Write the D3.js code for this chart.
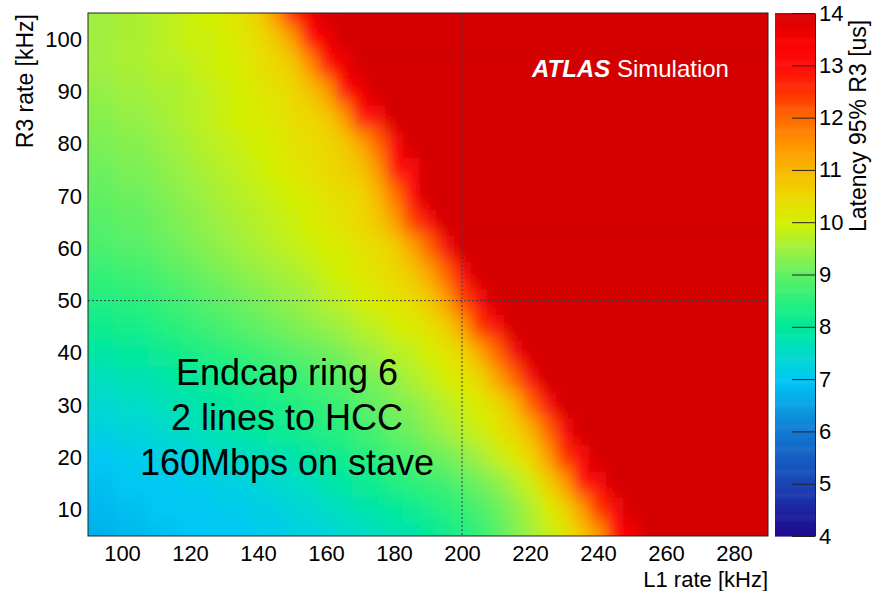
<!DOCTYPE html>
<html>
<head>
<meta charset="utf-8">
<script src="https://cdn.jsdelivr.net/npm/d3@7/dist/d3.min.js"></script>
<style>
  body { margin: 0; background: #fff; }
  svg text { font-family: "Liberation Sans", Arial, Helvetica, sans-serif; fill: #000; }
</style>
</head>
<body>
<svg class="latency-ch"></svg>
<script>
"use strict";

// L1 rate (columns) and R3 rate (rows), kHz
var l1Rate = [90,95,100,105,110,115,120,125,130,135,140,145,150,155,160,165,170,175,180,185,
  190,195,200,205,210,215,220,225,230,235,240,245,250,255,260,265,270,275,280,285,290];
var r3Rate = [5,10,15,20,25,30,35,40,45,50,55,60,65,70,75,80,85,90,95,100,105];

// latency 95% R3 [us], one row per R3 rate (bottom to top), 15 = off scale
var latency = [
  [6.7,6.7,6.8,6.8,6.9,6.9,7.0,7.0,7.0,7.0,7.1,7.1,7.2,7.2,7.3,7.4,7.5,7.6,7.7,7.8,8.0,8.2,8.4,8.6,8.9,9.2,9.5,9.8,10.2,10.7,11.3,13.0,13.5,
   15,15,15,15,15,15,15,15],
  [6.8,6.8,6.9,6.9,7.0,7.0,7.0,7.0,7.1,7.1,7.2,7.2,7.3,7.4,7.5,7.6,7.8,7.9,8.0,8.1,8.3,8.4,8.6,8.8,9.0,9.3,9.6,10.0,10.5,11.3,12.5,13.2,
   15,15,15,15,15,15,15,15,15],
  [6.9,6.9,7.0,7.0,7.0,7.0,7.1,7.1,7.2,7.2,7.3,7.4,7.5,7.6,7.8,7.9,8.1,8.2,8.4,8.5,8.6,8.7,8.9,9.1,9.3,9.6,9.9,10.6,11.3,13.0,13.2,
   15,15,15,15,15,15,15,15,15,15],
  [7.0,7.0,7.1,7.1,7.2,7.2,7.3,7.4,7.5,7.5,7.6,7.7,7.8,7.9,8.1,8.2,8.4,8.5,8.7,8.8,9.0,9.1,9.3,9.5,9.8,10.1,10.5,11.3,12.5,13.2,
   15,15,15,15,15,15,15,15,15,15,15],
  [7.2,7.2,7.3,7.3,7.4,7.5,7.6,7.7,7.8,7.9,8.0,8.1,8.2,8.3,8.4,8.5,8.7,8.8,9.0,9.1,9.3,9.5,9.7,9.9,10.2,10.5,11.0,12.0,13.2,
   15,15,15,15,15,15,15,15,15,15,15,15],
  [7.4,7.4,7.5,7.5,7.6,7.7,7.8,7.9,8.0,8.1,8.2,8.3,8.4,8.5,8.6,8.7,8.9,9.0,9.2,9.3,9.5,9.7,9.9,10.1,10.4,10.9,12.0,13.0,
   15,15,15,15,15,15,15,15,15,15,15,15,15],
  [7.6,7.6,7.7,7.7,7.8,7.9,8.0,8.1,8.2,8.3,8.4,8.5,8.6,8.7,8.8,8.9,9.1,9.2,9.4,9.6,9.8,10.0,10.2,10.5,11.2,12.0,13.2,
   15,15,15,15,15,15,15,15,15,15,15,15,15,15],
  [7.9,7.9,8.0,8.0,8.1,8.2,8.3,8.4,8.5,8.6,8.7,8.8,8.9,9.0,9.1,9.2,9.4,9.5,9.7,9.8,10.0,10.2,10.5,11.2,12.0,13.2,
   15,15,15,15,15,15,15,15,15,15,15,15,15,15,15],
  [8.2,8.2,8.3,8.3,8.4,8.5,8.6,8.7,8.8,8.9,9.0,9.1,9.2,9.3,9.4,9.5,9.7,9.8,10.0,10.1,10.3,10.6,11.3,12.5,13.2,
   15,15,15,15,15,15,15,15,15,15,15,15,15,15,15,15],
  [8.4,8.4,8.5,8.5,8.6,8.7,8.8,8.9,9.0,9.1,9.2,9.3,9.4,9.5,9.7,9.8,10.0,10.1,10.3,10.4,10.7,11.3,12.3,13.2,
   15,15,15,15,15,15,15,15,15,15,15,15,15,15,15,15,15],
  [8.6,8.6,8.7,8.7,8.8,8.9,9.0,9.1,9.2,9.3,9.4,9.5,9.6,9.7,9.9,10.0,10.2,10.3,10.5,10.7,11.2,12.0,13.2,
   15,15,15,15,15,15,15,15,15,15,15,15,15,15,15,15,15,15],
  [8.8,8.8,8.9,8.9,9.0,9.1,9.2,9.3,9.4,9.5,9.6,9.7,9.8,9.9,10.0,10.1,10.3,10.4,10.6,11.2,12.0,13.2,
   15,15,15,15,15,15,15,15,15,15,15,15,15,15,15,15,15,15,15],
  [8.9,8.9,9.0,9.0,9.1,9.2,9.3,9.4,9.5,9.6,9.7,9.8,9.9,10.0,10.2,10.3,10.5,10.7,11.3,12.3,13.2,
   15,15,15,15,15,15,15,15,15,15,15,15,15,15,15,15,15,15,15,15],
  [9.0,9.0,9.1,9.1,9.2,9.3,9.4,9.5,9.6,9.7,9.8,9.9,10.0,10.1,10.3,10.4,10.5,11.0,11.8,13.0,
   15,15,15,15,15,15,15,15,15,15,15,15,15,15,15,15,15,15,15,15,15],
  [9.1,9.1,9.2,9.2,9.3,9.4,9.5,9.6,9.7,9.8,9.9,10.0,10.2,10.3,10.5,10.6,10.8,11.4,13.0,13.2,
   15,15,15,15,15,15,15,15,15,15,15,15,15,15,15,15,15,15,15,15,15],
  [9.2,9.2,9.3,9.3,9.4,9.5,9.6,9.7,9.8,9.9,10.0,10.1,10.3,10.4,10.5,10.7,11.2,12.0,13.2,
   15,15,15,15,15,15,15,15,15,15,15,15,15,15,15,15,15,15,15,15,15,15],
  [9.3,9.3,9.4,9.4,9.5,9.6,9.7,9.8,9.9,10.0,10.1,10.2,10.4,10.5,10.7,11.3,13.0,13.2,
   15,15,15,15,15,15,15,15,15,15,15,15,15,15,15,15,15,15,15,15,15,15,15],
  [9.4,9.4,9.5,9.5,9.6,9.6,9.7,9.8,9.9,10.0,10.2,10.3,10.5,10.8,11.3,13.0,13.5,
   15,15,15,15,15,15,15,15,15,15,15,15,15,15,15,15,15,15,15,15,15,15,15,15],
  [9.5,9.5,9.6,9.6,9.7,9.7,9.8,9.9,10.0,10.1,10.3,10.5,10.7,11.5,13.0,13.5,
   15,15,15,15,15,15,15,15,15,15,15,15,15,15,15,15,15,15,15,15,15,15,15,15,15],
  [9.5,9.5,9.6,9.6,9.7,9.8,9.9,9.9,10.0,10.2,10.4,10.7,11.3,13.0,13.5,
   15,15,15,15,15,15,15,15,15,15,15,15,15,15,15,15,15,15,15,15,15,15,15,15,15,15],
  [9.5,9.5,9.6,9.6,9.7,9.8,9.9,10.0,10.1,10.3,10.6,11.5,13.0,13.5,
   15,15,15,15,15,15,15,15,15,15,15,15,15,15,15,15,15,15,15,15,15,15,15,15,15,15,15]
];

var xTicks = [100,120,140,160,180,200,220,240,260,280];
var yTicks = [10,20,30,40,50,60,70,80,90,100];
var zTicks = [4,5,6,7,8,9,10,11,12,13,14];

// colour palette stops
var paletteValues = [4,4.5,5,5.5,6,6.5,7,7.5,8,8.5,9,9.5,10,10.5,11,11.5,12,12.5,13,13.5,14];
var paletteColors = ['#1e0a8c','#1e24a0','#1a44b4','#165ec4','#127ad2','#0aa0e4','#00c8f4','#00dcc8',
  '#00e89c','#28f07c','#60f064','#a0f040','#d4f000','#ecd800','#f8b800','#ff9400','#ff6a00',
  '#ff3000','#ff0c0c','#f80000','#d40000'];

var noteLines = ['Endcap ring 6','2 lines to HCC','160Mbps on stave'];

var plotLeft = 88, plotRight = 768, plotTop = 13, plotBottom = 536;
var barLeft = 775, barRight = 815;

var svg = d3.select('.latency-ch')
  .attr('width',872)
  .attr('height',591);

var x = d3.scaleLinear().domain([90,290]).range([plotLeft,plotRight]);
var y = d3.scaleLinear().domain([5,105]).range([plotBottom,plotTop]);
var z = d3.scaleLinear().domain(paletteValues).range(paletteColors).clamp(true);
var zy = d3.scaleLinear().domain([4,14]).range([plotBottom,plotTop]);

var defs = svg.append('defs');
defs.append('clipPath').attr('id','plot-clip')
  .append('rect')
    .attr('x',plotLeft).attr('y',plotTop)
    .attr('width',plotRight-plotLeft).attr('height',plotBottom-plotTop);

defs.append('filter').attr('id','smooth')
  .attr('filterUnits','userSpaceOnUse')
  .attr('x',plotLeft-80).attr('y',plotTop-80)
  .attr('width',plotRight-plotLeft+160).attr('height',plotBottom-plotTop+160)
  .append('feGaussianBlur').attr('stdDeviation','7 10');

var cells = [];
latency.forEach(function(row,j){
  row.forEach(function(v,i){
    cells.push({i:i, j:j, l1:l1Rate[i], r3:r3Rate[j], v:v});
  });
});

var nx = l1Rate.length, ny = r3Rate.length;
function cx0(d){ return x(d.l1-2.5) - (d.i===0 ? 60 : 0); }
function cx1(d){ return x(d.l1+2.5) + (d.i===nx-1 ? 60 : 0); }
function cy0(d){ return y(d.r3+2.5) - (d.j===ny-1 ? 60 : 0); }
function cy1(d){ return y(d.r3-2.5) + (d.j===0 ? 60 : 0); }

svg.append('g').attr('clip-path','url(#plot-clip)')
  .append('g').attr('filter','url(#smooth)')
  .selectAll('.cell')
  .data(cells)
  .enter().append('rect')
    .attr('class','cell')
    .attr('x',cx0)
    .attr('y',cy0)
    .attr('width',function(d){return cx1(d)-cx0(d)+0.5})
    .attr('height',function(d){return cy1(d)-cy0(d)+0.5})
    .style('fill',function(d){return z(d.v)});

// dashed guide lines at L1 = 200 kHz and R3 = 50 kHz
svg.append('line')
  .attr('x1',x(200)).attr('x2',x(200))
  .attr('y1',plotTop).attr('y2',plotBottom)
  .style('stroke','#3a3a5a').style('stroke-width',1).style('stroke-dasharray','2,2');
svg.append('line')
  .attr('x1',plotLeft).attr('x2',plotRight)
  .attr('y1',y(50)).attr('y2',y(50))
  .style('stroke','#3a3a5a').style('stroke-width',1).style('stroke-dasharray','2,2');

// frame
svg.append('rect')
  .attr('x',plotLeft).attr('y',plotTop)
  .attr('width',plotRight-plotLeft).attr('height',plotBottom-plotTop)
  .style('fill','none').style('stroke','#222').style('stroke-width',1);

var xAxis = d3.axisBottom(x).tickValues(xTicks).tickSize(0).tickPadding(9);
var yAxis = d3.axisLeft(y).tickValues(yTicks).tickSize(0).tickPadding(6);

svg.append('g')
  .attr('transform','translate(0,'+plotBottom+')')
  .call(xAxis)
  .call(function(g){ g.select('.domain').remove(); })
  .selectAll('text').style('font-size','22px').attr('fill','#000');

svg.append('g')
  .attr('transform','translate('+plotLeft+',0)')
  .call(yAxis)
  .call(function(g){ g.select('.domain').remove(); })
  .selectAll('text').style('font-size','22px').attr('fill','#000');

svg.append('text')
  .attr('x',plotRight).attr('y',587)
  .attr('text-anchor','end')
  .style('font-size','22px')
  .text('L1 rate [kHz]');

svg.append('text')
  .attr('transform','translate(33,14) rotate(-90)')
  .attr('text-anchor','end')
  .style('font-size','23px')
  .text('R3 rate [kHz]');

// colour bar
var steps = d3.range(4,14,0.02);
svg.append('g').selectAll('.zbin')
  .data(steps)
  .enter().append('rect')
    .attr('x',barLeft)
    .attr('y',function(d){return zy(d+0.02)})
    .attr('width',barRight-barLeft)
    .attr('height',function(d){return zy(d)-zy(d+0.02)+0.6})
    .style('fill',function(d){return z(d+0.01)});

var zAxis = d3.axisRight(zy).tickValues(zTicks).tickSizeInner(-23).tickSizeOuter(0).tickPadding(4);
svg.append('g')
  .attr('transform','translate('+barRight+',0)')
  .call(zAxis)
  .call(function(g){
    g.select('.domain').style('stroke','#222');
    g.selectAll('line').style('stroke','#222');
    g.selectAll('text').style('font-size','22px').attr('fill','#000');
  });

svg.append('text')
  .attr('transform','translate(866,232) rotate(-90)')
  .attr('text-anchor','start')
  .style('font-size','23px')
  .text('Latency 95% R3 [us]');

// labels inside the frame
var atlas = svg.append('text')
  .attr('x',532).attr('y',77)
  .style('font-size','24px')
  .style('fill','#fff');
atlas.append('tspan').style('font-weight','bold').style('font-style','italic').style('fill','#fff').text('ATLAS');
atlas.append('tspan').style('fill','#fff').text(' Simulation');

svg.append('g').selectAll('.note')
  .data(noteLines)
  .enter().append('text')
    .attr('class','note')
    .attr('x',287)
    .attr('y',function(d,i){return 385 + i*45})
    .attr('text-anchor','middle')
    .style('font-size','36px')
    .text(function(d){return d});
</script>
</body>
</html>
